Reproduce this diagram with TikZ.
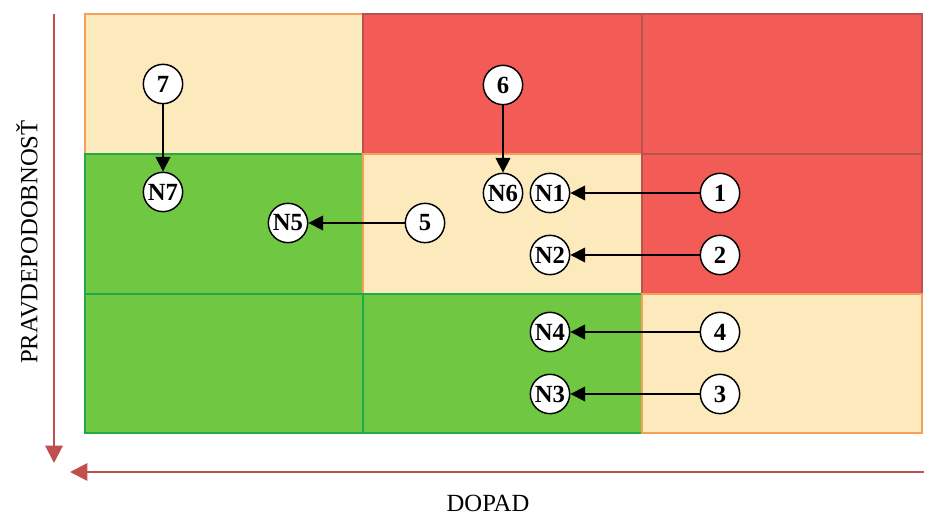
\documentclass[tikz,border=0pt]{standalone}
\usepackage{fontspec}
\setmainfont{Liberation Serif}
\usetikzlibrary{arrows.meta}
\usepackage{xcolor}
\definecolor{lowfill}{RGB}{112,200,66}
\definecolor{lowdraw}{RGB}{34,170,72}
\definecolor{midfill}{RGB}{252,233,188}
\definecolor{middraw}{RGB}{245,160,90}
\definecolor{highfill}{RGB}{242,91,86}
\definecolor{highdraw}{RGB}{184,84,80}
\definecolor{axisred}{RGB}{192,80,77}

\tikzset{
  low/.style={fill=lowfill, draw=lowdraw, line width=1pt},
  mid/.style={fill=midfill, draw=middraw, line width=1pt},
  high/.style={fill=highfill, draw=highdraw, line width=1pt},
  risk/.style={circle, draw=black, fill=white, line width=1.1pt, minimum size=29.5pt,
    inner sep=0pt, font=\fontsize{18.5}{19}\selectfont\bfseries},
  move/.style={-{Triangle[length=11pt,width=11pt]}, line width=1pt},
  axis/.style={axisred, line width=1.5pt, -{Triangle[length=13pt,width=13pt]}},
  axislabel/.style={font=\fontsize{18.5}{20}\selectfont}
}

\begin{document}
\begin{tikzpicture}[x=0.75pt, y=-0.75pt]
  \useasboundingbox (0,0) rectangle (926,516);
  % risk matrix, rows top to bottom
  \path[mid]  (85,14)   rectangle (363,154);
  \path[high] (363,14)  rectangle (642,154);
  \path[high] (642,14)  rectangle (922,154);
  \path[low]  (85,154)  rectangle (363,294);
  \path[mid]  (363,154) rectangle (642,294);
  \path[high] (642,154) rectangle (922,294);
  \path[low]  (85,294)  rectangle (363,433);
  \path[low]  (363,294) rectangle (642,433);
  \path[mid]  (642,294) rectangle (922,433);

  % axes
  \coordinate (ytop) at (54,14);
  \coordinate (yend) at (54,463);
  \coordinate (xstart) at (924,472);
  \coordinate (xend) at (70,472);
  \draw[axis] (ytop) -- (yend);
  \draw[axis] (xstart) -- (xend);
  \node[axislabel, rotate=90] (ylabel) at (27,242) {PRAVDEPODOBNOSŤ};
  \node[axislabel] (xlabel) at (488,503) {DOPAD};

  % risks before measures
  \node[risk] (r1) at (720,193) {1};
  \node[risk] (r2) at (720,255) {2};
  \node[risk] (r3) at (720,394) {3};
  \node[risk] (r4) at (720,332) {4};
  \node[risk] (r5) at (425,223) {5};
  \node[risk] (r6) at (503,85)  {6};
  \node[risk] (r7) at (163,84)  {7};

  % risks after measures
  \node[risk] (n1) at (550,193) {N1};
  \node[risk] (n2) at (550,255) {N2};
  \node[risk] (n3) at (550,394) {N3};
  \node[risk] (n4) at (550,332) {N4};
  \node[risk] (n5) at (288,223) {N5};
  \node[risk] (n6) at (503,193) {N6};
  \node[risk] (n7) at (163,192) {N7};

  \foreach \i in {1,...,7}
    \draw[move] (r\i) -- (n\i);
\end{tikzpicture}
\end{document}
